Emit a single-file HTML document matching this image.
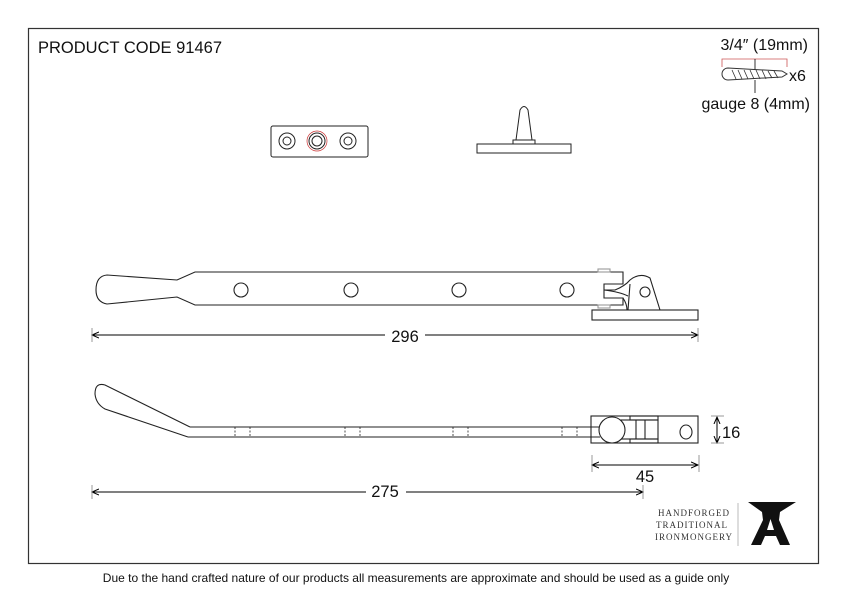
<!DOCTYPE html>
<html><head><style>
html,body{margin:0;padding:0;background:#fff;}
svg{display:block;font-family:"Liberation Sans",sans-serif;}
</style></head><body>
<svg width="842" height="596" viewBox="0 0 842 596" xmlns="http://www.w3.org/2000/svg">
<defs>
<marker id="a" markerWidth="8" markerHeight="8" refX="7" refY="4" orient="auto-start-reverse" markerUnits="userSpaceOnUse"><path d="M0,1 L7,4 L0,7" fill="none" stroke="#000" stroke-width="1"/></marker>
</defs>
<rect x="28.5" y="28.5" width="790" height="535" fill="none" stroke="#333" stroke-width="1.2"/>
<text x="38" y="53" font-size="16.5" fill="#111">PRODUCT CODE 91467</text>

<!-- screw -->
<text x="808" y="50" font-size="16" text-anchor="end" fill="#111">3/4″ (19mm)</text>
<path d="M722,67 V59 H787 V67" fill="none" stroke="#c55" stroke-width="0.8"/>
<line x1="755" y1="59" x2="755" y2="70" stroke="#000" stroke-width="0.8"/>
<path d="M728,68 A6,6 0 1 0 728,80 L782,77 L787,74 L782,71 Z" fill="none" stroke="#333" stroke-width="1"/>
<path d="M732,70 L736,79 M738,70 L742,79 M744,70 L748,79 M750,70 L754,79 M756,70 L760,79 M762,70 L766,79 M768,71 L772,78 M774,71 L778,78" stroke="#333" stroke-width="0.8"/>
<line x1="755" y1="80" x2="755" y2="93" stroke="#000" stroke-width="0.8"/>
<text x="789" y="81" font-size="16" fill="#111">x6</text>
<text x="810" y="109" font-size="16" text-anchor="end" fill="#111">gauge 8 (4mm)</text>

<!-- keep plate -->
<rect x="271" y="126" width="97" height="31" rx="2" fill="none" stroke="#222" stroke-width="1"/>
<circle cx="287" cy="141" r="8" fill="none" stroke="#222"/><circle cx="287" cy="141" r="4" fill="none" stroke="#222"/>
<circle cx="317" cy="141" r="10" fill="none" stroke="#c33" stroke-width="0.7"/><circle cx="317" cy="141" r="8" fill="none" stroke="#222"/><circle cx="317" cy="141" r="5" fill="none" stroke="#222"/>
<circle cx="348" cy="141" r="8" fill="none" stroke="#222"/><circle cx="348" cy="141" r="4" fill="none" stroke="#222"/>
<!-- pin -->
<rect x="477" y="144" width="94" height="9" fill="none" stroke="#222"/>
<rect x="513" y="140" width="22" height="4" fill="none" stroke="#222"/>
<path d="M516,140 L520,110 Q524,103 528,110 L532,140" fill="none" stroke="#222"/>

<!-- top stay -->
<g fill="none" stroke="#222" stroke-width="1.1">
<path d="M623,272 H195 L177,280 L107,275 Q96,276 96,290 Q96,302 107,304 L177,297 L195,305 H623 V298 H604 V284 H623 Z"/>
<circle cx="241" cy="290" r="7"/><circle cx="351" cy="290" r="7"/><circle cx="459" cy="290" r="7"/><circle cx="567" cy="290" r="7"/>
<rect x="598" y="269" width="12" height="3" stroke="#999"/><rect x="598" y="305" width="12" height="3" stroke="#999"/>
<path d="M604,290 H615 Q625,286 630,280 Q640,272 650,278 L660,310"/>
<path d="M623,298 Q627,304 627,310 M604,290 Q620,292 628,296"/>
<path d="M630,284 L628,310"/>
<circle cx="645" cy="292" r="5"/>
<rect x="592" y="310" width="106" height="10"/>
</g>
<line x1="92" y1="335" x2="698" y2="335" stroke="#000" stroke-width="1" marker-start="url(#a)" marker-end="url(#a)"/>
<line x1="92" y1="328" x2="92" y2="342" stroke="#999"/><line x1="698" y1="328" x2="698" y2="342" stroke="#999"/>
<rect x="385" y="326" width="40" height="18" fill="#fff"/>
<text x="405" y="342" font-size="16.5" text-anchor="middle" fill="#111">296</text>

<!-- bottom stay -->
<g fill="none" stroke="#222" stroke-width="1.1">
<path d="M190,427 L105,385 Q95,382 95,394 Q96,404 105,409 L188,437"/>
<path d="M190,427 H600 M188,437 H600"/>
<path d="M235,427 V437 M250,427 V437 M345,427 V437 M360,427 V437 M453,427 V437 M468,427 V437 M562,427 V437 M577,427 V437" stroke-dasharray="2,1.5" stroke-width="0.8"/>
<rect x="591" y="416" width="107" height="27"/>
<rect x="621" y="420" width="37" height="19" fill="#fff"/>
<rect x="630" y="416" width="28" height="4"/><rect x="630" y="439" width="28" height="4"/>
<line x1="636" y1="420" x2="636" y2="439"/><line x1="645" y1="420" x2="645" y2="439"/>
<circle cx="612" cy="430" r="13" fill="#fff"/>
<ellipse cx="686" cy="432" rx="6" ry="7"/>
</g>
<line x1="717" y1="417" x2="717" y2="443" stroke="#000" marker-start="url(#a)" marker-end="url(#a)"/>
<line x1="711" y1="416" x2="724" y2="416" stroke="#999"/><line x1="711" y1="443" x2="724" y2="443" stroke="#999"/>
<text x="722" y="438" font-size="16.5" fill="#111">16</text>
<line x1="592" y1="465" x2="698" y2="465" stroke="#000" marker-start="url(#a)" marker-end="url(#a)"/>
<line x1="592" y1="455" x2="592" y2="472" stroke="#999"/><line x1="699" y1="455" x2="699" y2="472" stroke="#999"/>
<text x="645" y="482" font-size="16.5" text-anchor="middle" fill="#111">45</text>
<line x1="92" y1="492" x2="643" y2="492" stroke="#000" marker-start="url(#a)" marker-end="url(#a)"/>
<line x1="92" y1="485" x2="92" y2="499" stroke="#999"/><line x1="643" y1="485" x2="643" y2="499" stroke="#999"/>
<rect x="366" y="482" width="40" height="12" fill="#fff"/>
<text x="385" y="497" font-size="16.5" text-anchor="middle" fill="#111">275</text>

<!-- logo -->
<g font-family="Liberation Serif,serif" font-size="9" fill="#333" letter-spacing="1">
<text x="658" y="516">HANDFORGED</text>
<text x="656" y="528">TRADITIONAL</text>
<text x="655" y="540">IRONMONGERY</text>
</g>
<line x1="738" y1="503" x2="738" y2="546" stroke="#bbb"/>
<path d="M748,502 H796 L780,512 L779,520 L790,545 H780 L776,536 H765 L761,545 H751 L763,520 L762,512 Z M767,530 H774 L770.5,519 Z" fill="#111" fill-rule="evenodd"/>

<text x="416" y="582" font-size="12" text-anchor="middle" fill="#111">Due to the hand crafted nature of our products all measurements are approximate and should be used as a guide only</text>
</svg>
</body></html>
